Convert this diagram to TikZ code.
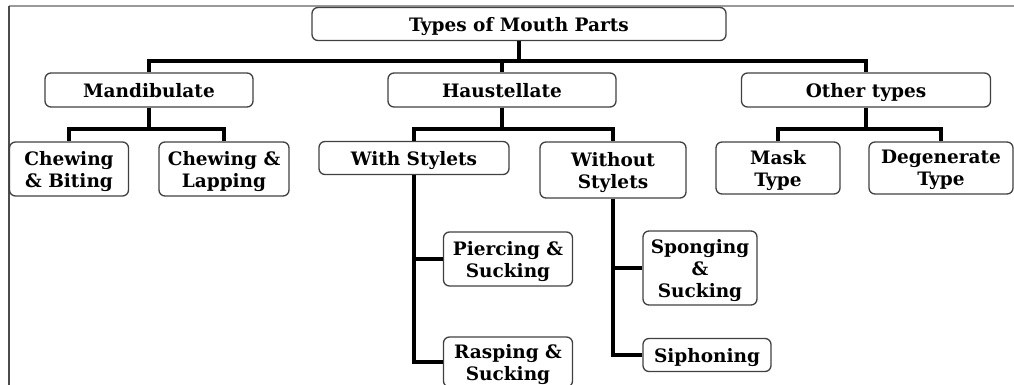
\documentclass[tikz,border=0pt]{standalone}
\usepackage{fontspec}
\setmainfont{DejaVu Serif}
\usepackage{tikz}

\begin{document}
\begin{tikzpicture}[x=1pt, y=-1pt,
    box/.style = {draw=black!75, line width=1.3pt, rounded corners=6pt, align=center,
                  inner sep=1pt, text depth=0pt, font=\bfseries\fontsize{18.5}{22}\selectfont},
    link/.style = {line width=3.8pt}]
      \useasboundingbox (0,0) rectangle (1014,385);
      \draw[black!40, line width=2pt] (9,6.5) -- (1014,6.5);
      \draw[black!70, line width=2pt] (9,6) -- (9,385);

      \node[box, minimum width=414, minimum height=33] (top) at (519,24) {Types of Mouth Parts};
      \node[box, minimum width=208, minimum height=34] (mand) at (149,90) {Mandibulate};
      \node[box, minimum width=228, minimum height=34] (haus) at (502,90) {Haustellate};
      \node[box, minimum width=249, minimum height=34] (other) at (866,90) {Other types};

      \node[box, minimum width=119, minimum height=54] (chewb) at (69,169) {Chewing\\\& Biting};
      \node[box, minimum width=130, minimum height=54] (chewl) at (224,169) {Chewing \&\\Lapping};
      \node[box, minimum width=190, minimum height=33] (with) at (414,158) {With Stylets};
      \node[box, minimum width=146, minimum height=56] (without) at (613,170) {Without\\Stylets};
      \node[box, minimum width=124, minimum height=52] (mask) at (778,168) {Mask\\Type};
      \node[box, minimum width=144, minimum height=52] (degen) at (941,168) {Degenerate\\Type};

      \node[box, minimum width=129, minimum height=54] (pierce) at (508,259) {Piercing \&\\Sucking};
      \node[box, minimum width=129, minimum height=50] (rasp) at (508,362) {Rasping \&\\Sucking};
      \node[box, minimum width=114, minimum height=74] (sponge) at (700,268) {Sponging\\\&\\Sucking};
      \node[box, minimum width=128, minimum height=33] (siph) at (707,355) {Siphoning};

      \draw[link] (top.south) -- ++(0,20) -| (mand.north);
      \draw[link] (top.south) -- ++(0,20) -| (haus.north);
      \draw[link] (top.south) -- ++(0,20) -| (other.north);

      \draw[link] (mand.south) -- ++(0,21) -| (chewb.north);
      \draw[link] (mand.south) -- ++(0,21) -| (chewl.north);
      \draw[link] (haus.south) -- ++(0,21) -| (with.north);
      \draw[link] (haus.south) -- ++(0,21) -| (without.north);
      \draw[link] (other.south) -- ++(0,21) -| (mask.north);
      \draw[link] (other.south) -- ++(0,21) -| (degen.north);

      \draw[link] (with.south) |- (pierce.west);
      \draw[link] (with.south) |- (rasp.west);
      \draw[link] (without.south) |- (sponge.west);
      \draw[link] (without.south) |- (siph.west);
    \end{tikzpicture}
\end{document}
